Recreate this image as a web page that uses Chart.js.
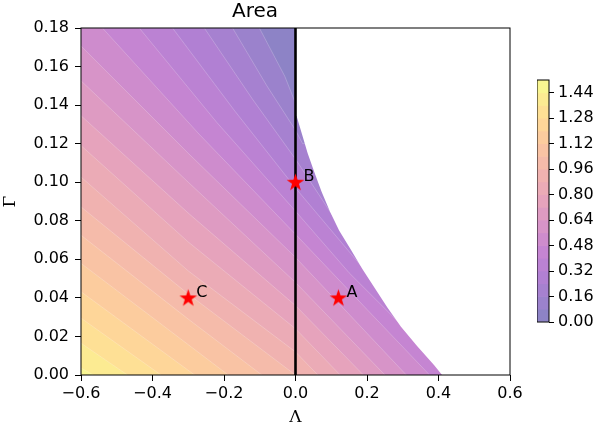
<!DOCTYPE html>
<html>
<head>
<meta charset="utf-8">
<title>Area</title>
<script src="https://cdn.jsdelivr.net/npm/chart.js"></script>
<style>
  body { margin: 0; background: #fff; }
  #wrap { position: relative; width: 602px; height: 429px; }
  #mainChart { position: absolute; left: 0; top: 0; }
  #barChart { position: absolute; left: 537px; top: 0; }
</style>
</head>
<body>
<div id="wrap">
  <canvas id="mainChart" width="602" height="429"></canvas>
  <canvas id="barChart" width="65" height="429"></canvas>
</div>
<script>
// contour levels (upper edge of each filled band)
const levels = [0.08, 0.16, 0.24, 0.32, 0.40, 0.48, 0.56, 0.64, 0.72,
                0.80, 0.88, 0.96, 1.04, 1.12, 1.20, 1.28, 1.36, 1.44];
const levelMax = 1.52;

// contour lines, one list per level (Lambda, Gamma)
const contourLambda = [
  [-0.101, -0.03, 0.0],
  [-0.176, -0.08, 0.0, 0.02],
  [-0.255, -0.12, 0.0, 0.11],
  [-0.344, -0.17, 0.0, 0.20],
  [-0.437, -0.22, 0.0, 0.15, 0.285],
  [-0.54, -0.27, 0.0, 0.20, 0.375],
  [-0.6, -0.3, 0.0, 0.31],
  [-0.6, -0.3, 0.0, 0.25],
  [-0.6, -0.3, 0.0, 0.19],
  [-0.6, -0.3, 0.0, 0.125],
  [-0.6, -0.3, 0.0, 0.0625],
  [-0.6, -0.3, 0.0],
  [-0.6, -0.3, -0.094],
  [-0.6, -0.4, -0.188],
  [-0.6, -0.45, -0.282],
  [-0.6, -0.5, -0.376],
  [-0.6, -0.47],
  [-0.6, -0.565]
];
const contourGamma = [
  [0.18, 0.155, 0.141],
  [0.18, 0.150, 0.127, 0.120],
  [0.18, 0.143, 0.112, 0.081],
  [0.18, 0.137, 0.097, 0.053],
  [0.18, 0.131, 0.085, 0.053, 0.028],
  [0.18, 0.125, 0.073, 0.034, 0.0],
  [0.1707, 0.115, 0.061, 0.0],
  [0.1526, 0.100, 0.048, 0.0],
  [0.1345, 0.084, 0.036, 0.0],
  [0.119, 0.069, 0.024, 0.0],
  [0.1027, 0.054, 0.012, 0.0],
  [0.0872, 0.042, 0.0],
  [0.0725, 0.029, 0.0],
  [0.0579, 0.0298, 0.0],
  [0.0432, 0.0228, 0.0],
  [0.0295, 0.0163, 0.0],
  [0.0165, 0.0],
  [0.0036, 0.0]
];

// edge of the valid region on the right
const boundaryLambda = [0.0, 0.003, 0.018, 0.034, 0.053, 0.073, 0.096, 0.122, 0.155,
                        0.187, 0.222, 0.257, 0.295, 0.340, 0.388, 0.41];
const boundaryGamma  = [0.1344, 0.1344, 0.125, 0.115, 0.105, 0.095, 0.085, 0.075, 0.065,
                        0.055, 0.045, 0.035, 0.025, 0.015, 0.005, 0.0];

const pointNames  = ['A', 'B', 'C'];
const pointLambda = [0.12, 0.0, -0.3];
const pointGamma  = [0.04, 0.10, 0.04];

const xTicks  = [-0.6, -0.4, -0.2, 0.0, 0.2, 0.4, 0.6];
const yTicks  = [0.00, 0.02, 0.04, 0.06, 0.08, 0.10, 0.12, 0.14, 0.16, 0.18];
const cbTicks = [0.00, 0.16, 0.32, 0.48, 0.64, 0.80, 0.96, 1.12, 1.28, 1.44];

const xMin = -0.6, xMax = 0.6, yMin = 0, yMax = 0.18;

// plasma colour map, drawn at alpha 0.5 over white
const plasma = [[13,8,135],[65,4,157],[106,0,168],[143,13,164],[177,42,144],[204,71,120],
                [225,100,98],[242,132,75],[252,166,54],[252,206,37],[240,249,33]];
function plasmaColor(t) {
  const p = Math.min(Math.max(t, 0), 1) * 10;
  const i = Math.min(Math.floor(p), 9), f = p - i;
  const c = plasma[i].map((v, k) => v + (plasma[i + 1][k] - v) * f);
  const m = c.map(v => Math.round(v * 0.5 + 255 * 0.5));
  return 'rgb(' + m.join(',') + ')';
}
const nBands = levels.length + 1;
const bandColor = i => plasmaColor((i + 0.5) / nBands);

function bandPolygon(i) {
  const xs = contourLambda[i], ys = contourGamma[i];
  const pts = [{x: xMin, y: yMin}];
  if (ys[0] >= yMax) pts.push({x: xMin, y: yMax});
  xs.forEach((x, k) => pts.push({x: x, y: ys[k]}));
  const last = pts[pts.length - 1];
  if (last.y > yMin) pts.push({x: xMax, y: last.y}, {x: xMax, y: yMin});
  return pts;
}

function makeStar() {
  const c = document.createElement('canvas');
  c.width = 19; c.height = 19;
  const g = c.getContext('2d');
  g.fillStyle = '#ff0000';
  g.beginPath();
  for (let k = 0; k < 10; k++) {
    const r = k % 2 ? 3.6 : 9.2;
    const a = -Math.PI / 2 + k * Math.PI / 5;
    g.lineTo(9.5 + r * Math.cos(a), 10 + r * Math.sin(a));
  }
  g.closePath();
  g.fill();
  return c;
}

const datasets = [];
datasets.push({
  type: 'scatter', data: pointLambda.map((x, i) => ({x: x, y: pointGamma[i]})),
  pointStyle: makeStar(), order: 0
});
datasets.push({
  type: 'line', data: [{x: 0, y: yMin}, {x: 0, y: yMax}],
  borderColor: '#000', borderWidth: 2.6, pointRadius: 0, fill: false, order: 1
});
datasets.push({
  type: 'line',
  data: [{x: 0, y: yMax}].concat(boundaryLambda.map((x, i) => ({x: x, y: boundaryGamma[i]})),
        [{x: xMax, y: yMin}, {x: xMax, y: yMax}]),
  backgroundColor: '#fff', borderWidth: 0, pointRadius: 0, fill: 'shape', order: 2
});
datasets.push({
  type: 'line',
  data: [{x: xMin, y: yMin}, {x: xMin, y: yMax}, {x: xMax, y: yMax}, {x: xMax, y: yMin}],
  backgroundColor: bandColor(0), borderWidth: 0, pointRadius: 0, fill: 'shape', order: 200
});
levels.forEach((lv, i) => {
  datasets.push({
    type: 'line', data: bandPolygon(i),
    backgroundColor: bandColor(i + 1),
    borderColor: 'rgba(255,255,255,0.3)', borderWidth: 0.7, pointRadius: 0,
    fill: 'shape', order: 199 - i
  });
});

const framePlugin = {
  id: 'frame',
  afterDatasetsDraw(chart) {
    const {ctx, chartArea: a} = chart;
    ctx.save();
    if (chart.canvas.id === 'mainChart') {
      const sx = chart.scales.x, sy = chart.scales.y;
      ctx.font = '16px "DejaVu Sans"';
      ctx.fillStyle = '#000';
      ctx.textBaseline = 'middle';
      pointNames.forEach((n, i) => {
        ctx.fillText(n, sx.getPixelForValue(pointLambda[i]) + 8, sy.getPixelForValue(pointGamma[i]) - 5);
      });
    }
    ctx.strokeStyle = '#000';
    ctx.lineWidth = 1;
    ctx.strokeRect(a.left, a.top, a.right - a.left, a.bottom - a.top);
    ctx.restore();
  }
};

const tickFont = {family: 'DejaVu Sans', size: 16};

new Chart(document.getElementById('mainChart'), {
  type: 'scatter',
  data: {datasets: datasets},
  options: {
    responsive: false, animation: false, events: [],
    layout: {padding: {left: 0, right: 92, top: 0, bottom: 0}},
    plugins: {
      legend: {display: false}, tooltip: {enabled: false},
      title: {display: true, text: 'Area', color: '#000',
              font: {family: 'DejaVu Sans', size: 20, weight: 'normal'},
              padding: {top: 0, bottom: 4}}
    },
    scales: {
      x: {
        type: 'linear', min: xMin, max: xMax,
        afterBuildTicks: s => { s.ticks = xTicks.map(v => ({value: v})); },
        afterFit: s => { s.height = 54; },
        ticks: {color: '#000', font: tickFont, padding: 3, maxRotation: 0,
                callback: v => (v < 0 ? '\u2212' : '') + Math.abs(v).toFixed(1)},
        grid: {drawOnChartArea: false, tickLength: 6, color: '#000'},
        border: {display: false},
        title: {display: true, text: '\u039B', color: '#000',
                font: {family: 'DejaVu Serif', size: 17}, padding: {top: 0, bottom: 1}}
      },
      y: {
        type: 'linear', min: yMin, max: yMax,
        afterBuildTicks: s => { s.ticks = yTicks.map(v => ({value: v})); },
        afterFit: s => { s.width = 81; },
        ticks: {color: '#000', font: tickFont, padding: 6,
                callback: v => v.toFixed(2)},
        grid: {drawOnChartArea: false, tickLength: 6, color: '#000'},
        border: {display: false},
        title: {display: true, text: '\u0393', color: '#000',
                font: {family: 'DejaVu Serif', size: 17}, padding: {top: 0, bottom: 0}}
      }
    }
  },
  plugins: [framePlugin]
});

// colour bar
const bandLow = [0].concat(levels);
const bandHigh = levels.concat([levelMax]);
new Chart(document.getElementById('barChart'), {
  type: 'bar',
  data: {
    labels: ['cb'],
    datasets: [{
      data: bandLow.map((lo, i) => ({x: 'cb', y: [lo, bandHigh[i]]})),
      backgroundColor: bandLow.map((lo, i) => bandColor(i)),
      borderWidth: 0, barPercentage: 1, categoryPercentage: 1
    }]
  },
  options: {
    responsive: false, animation: false, events: [],
    layout: {padding: {left: 0, right: 0, top: 80, bottom: 107}},
    plugins: {legend: {display: false}, tooltip: {enabled: false}},
    scales: {
      x: {display: false},
      y: {
        position: 'right', min: 0, max: levelMax,
        afterBuildTicks: s => { s.ticks = cbTicks.map(v => ({value: v})); },
        afterFit: s => { s.width = 53; },
        ticks: {color: '#000', font: tickFont, padding: 4, callback: v => v.toFixed(2)},
        grid: {drawOnChartArea: false, tickLength: 5, color: '#000'},
        border: {display: false}
      }
    }
  },
  plugins: [framePlugin]
});
</script>
</body>
</html>
